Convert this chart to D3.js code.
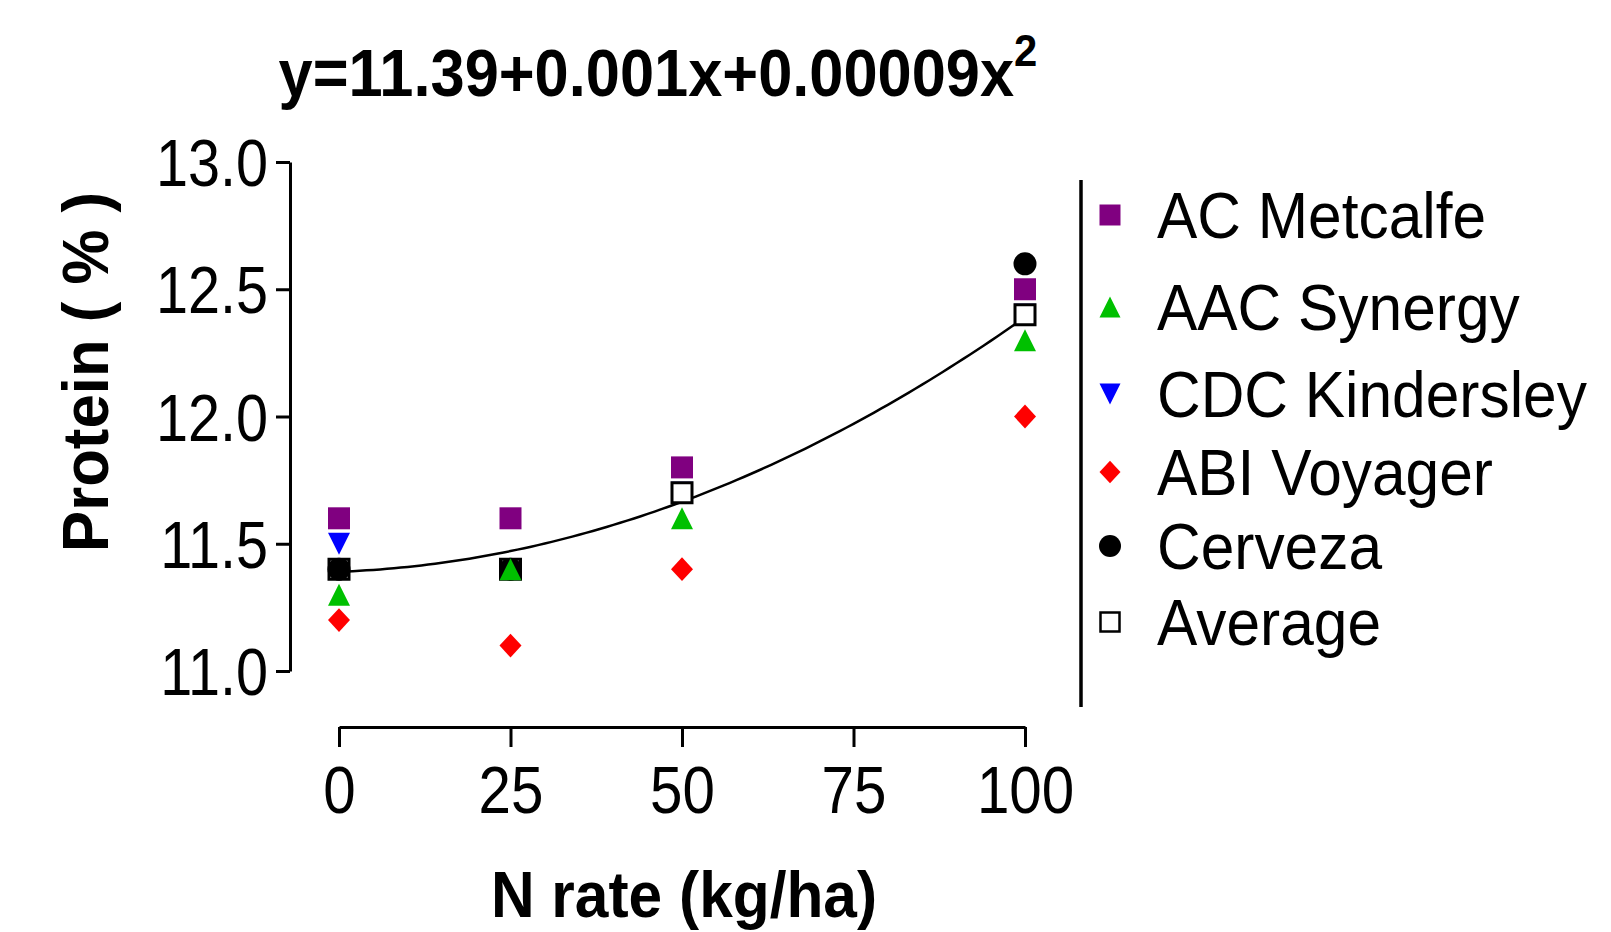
<!DOCTYPE html>
<html>
<head>
<meta charset="utf-8">
<script src="https://cdn.jsdelivr.net/npm/d3@7"></script>
<style>
  html, body { margin: 0; padding: 0; background: #ffffff; }
  svg { display: block; }
  text { font-family: "Liberation Sans", Arial, sans-serif; fill: #000; }
</style>
</head>
<body>
<svg id="chart" width="1611" height="932"></svg>
<script>
// N rate levels (kg/ha)
const nRates = [0, 25, 50, 100];

// Grain protein (%) per cultivar at each N rate (null = not measured)
const acMetcalfe     = [11.6, 11.6, 11.8, 12.5];
const aacSynergy     = [11.3, 11.4, 11.6, 12.3];
const cdcKindersley  = [11.5, 11.4, 11.7, 12.4];
const abiVoyager     = [11.2, 11.1, 11.4, 12.0];
const cerveza        = [11.4, 11.4, null, 12.6];
const average        = [11.4, 11.4, 11.7, 12.4];

const seriesNames = ["AC Metcalfe", "AAC Synergy", "CDC Kindersley", "ABI Voyager", "Cerveza", "Average"];

// Quadratic fit: y = b0 + b1*x + b2*x^2
const fitCoef = [11.39, 0.001, 0.00009];

const xTicks = [0, 25, 50, 75, 100];
const yTicks = [11.0, 11.5, 12.0, 12.5, 13.0];

// ---- appearance ----
const seriesStyle = {
  "AC Metcalfe":    { shape: "square",   fill: "#800080", stroke: "none",    size: 22 },
  "AAC Synergy":    { shape: "triUp",    fill: "#00c000", stroke: "none",    size: 22 },
  "CDC Kindersley": { shape: "triDown",  fill: "#0000ff", stroke: "none",    size: 22 },
  "ABI Voyager":    { shape: "diamond",  fill: "#ff0000", stroke: "none",    size: 22 },
  "Cerveza":        { shape: "circle",   fill: "#000000", stroke: "none",    size: 23 },
  "Average":        { shape: "square",   fill: "#ffffff", stroke: "#000000", size: 20 }
};
const seriesValues = {
  "AC Metcalfe": acMetcalfe,
  "AAC Synergy": aacSynergy,
  "CDC Kindersley": cdcKindersley,
  "ABI Voyager": abiVoyager,
  "Cerveza": cerveza,
  "Average": average
};
// paint order (later on top)
const drawOrder = ["CDC Kindersley", "Average", "Cerveza", "AC Metcalfe", "AAC Synergy", "ABI Voyager"];

function shapePath(shape, s) {
  const h = s / 2;
  switch (shape) {
    case "square":  return `M${-h},${-h}H${h}V${h}H${-h}Z`;
    case "triUp":   return `M0,${-h}L${h},${h}L${-h},${h}Z`;
    case "triDown": return `M${-h},${-h}L${h},${-h}L0,${h}Z`;
    case "diamond": return `M0,${-h * 1.08}L${h},0L0,${h * 1.08}L${-h},0Z`;
    case "circle":  return d3.arc()({ innerRadius: 0, outerRadius: h, startAngle: 0, endAngle: 2 * Math.PI });
  }
}

const svg = d3.select("#chart");

const x = d3.scaleLinear().domain([0, 100]).range([339, 1025]);
const y = d3.scaleLinear().domain([11, 13]).range([671, 162]);

// Title with superscript
const title = svg.append("text")
  .attr("transform", "translate(658,96) scale(0.93,1)")
  .attr("text-anchor", "middle")
  .attr("font-size", 66)
  .attr("font-weight", "bold");
title.append("tspan").text(`y=${fitCoef[0]}+${fitCoef[1]}x+${fitCoef[2].toFixed(5)}x`);
title.append("tspan").attr("font-size", 45).attr("dy", -30).text("2");

// Y axis
const yAxis = svg.append("g")
  .attr("transform", `translate(290,0)`)
  .call(d3.axisLeft(y).tickValues(yTicks).tickFormat(d3.format(".1f")).tickSize(14).tickSizeOuter(0));
yAxis.select(".domain").attr("stroke-width", 3).attr("stroke", "#000");
yAxis.selectAll(".tick line").attr("stroke-width", 3).attr("stroke", "#000");
yAxis.selectAll(".tick text")
  .attr("x", null).attr("dy", null)
  .attr("transform", "translate(-22,0) scale(0.86,1)")
  .attr("dominant-baseline", "central")
  .attr("font-size", 67)
  .attr("font-family", "Liberation Sans, Arial, sans-serif")
  .attr("fill", "#000");

// X axis
const xAxis = svg.append("g")
  .attr("transform", `translate(0,727)`)
  .call(d3.axisBottom(x).tickValues(xTicks).tickSize(20).tickSizeOuter(0));
xAxis.select(".domain").attr("stroke-width", 3).attr("stroke", "#000");
xAxis.selectAll(".tick line").attr("stroke-width", 3).attr("stroke", "#000");
xAxis.selectAll(".tick text")
  .attr("y", null).attr("dy", null)
  .attr("transform", "translate(0,86) scale(0.87,1)")
  .attr("font-size", 67)
  .attr("font-family", "Liberation Sans, Arial, sans-serif")
  .attr("fill", "#000");

// Axis titles
svg.append("text")
  .attr("transform", "translate(684,917) scale(0.93,1)")
  .attr("text-anchor", "middle")
  .attr("font-size", 65)
  .attr("font-weight", "bold")
  .text("N rate (kg/ha)");

svg.append("text")
  .attr("transform", "translate(108,372) rotate(-90) scale(0.95,1)")
  .attr("text-anchor", "middle")
  .attr("font-size", 65)
  .attr("font-weight", "bold")
  .text("Protein ( % )");

// Fitted curve
const fitX = d3.range(0, 100.5, 1);
const fitLine = d3.line()
  .x(d => x(d))
  .y(d => y(fitCoef[0] + fitCoef[1] * d + fitCoef[2] * d * d))
  .curve(d3.curveLinear);
svg.append("path")
  .attr("d", fitLine(fitX))
  .attr("fill", "none")
  .attr("stroke", "#000")
  .attr("stroke-width", 2.5);

// Points
drawOrder.forEach(name => {
  const st = seriesStyle[name];
  const vals = seriesValues[name];
  svg.append("g").selectAll("path")
    .data(nRates.map((n, i) => ({ n, v: vals[i] })).filter(d => d.v != null))
    .join("path")
    .attr("transform", d => `translate(${x(d.n)},${y(d.v)})`)
    .attr("d", shapePath(st.shape, st.size))
    .attr("fill", st.fill)
    .attr("stroke", st.stroke)
    .attr("stroke-width", st.stroke === "none" ? 0 : 3);
});

// Legend
const legendRowY = [215, 307, 394, 472, 546, 622];
svg.append("line")
  .attr("x1", 1081).attr("x2", 1081)
  .attr("y1", 180).attr("y2", 707)
  .attr("stroke", "#000").attr("stroke-width", 3.5);

const legend = svg.append("g");
seriesNames.forEach((name, i) => {
  const st = seriesStyle[name];
  const ly = legendRowY[i];
  legend.append("path")
    .attr("transform", `translate(1110,${ly})`)
    .attr("d", shapePath(st.shape, st.size - 1))
    .attr("fill", st.fill)
    .attr("stroke", st.stroke)
    .attr("stroke-width", st.stroke === "none" ? 0 : 2.5);
  legend.append("text")
    .attr("transform", `translate(1157,${ly + 23}) scale(0.93,1)`)
    .attr("font-size", 65)
    .text(name);
});
</script>
</body>
</html>
